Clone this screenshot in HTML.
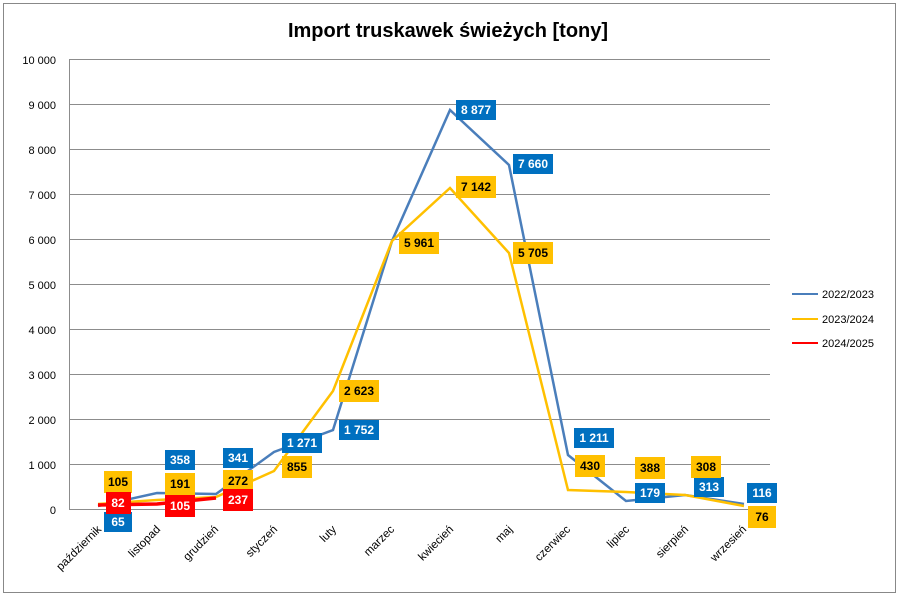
<!DOCTYPE html>
<html><head><meta charset="utf-8"><style>
body{margin:0;background:#fff}
text{font-family:"Liberation Sans",sans-serif}
</style></head><body>
<svg width="900" height="597" xmlns="http://www.w3.org/2000/svg">
<rect x="3.5" y="3.5" width="892" height="589" fill="#fff" stroke="#888"/>
<text x="448" y="37" text-anchor="middle" font-size="20" font-weight="bold">Import truskawek świeżych [tony]</text>
<g stroke="#8c8c8c" stroke-width="1">
<line x1="69" y1="59.5" x2="770" y2="59.5"/><line x1="69" y1="104.5" x2="770" y2="104.5"/>
<line x1="69" y1="149.5" x2="770" y2="149.5"/><line x1="69" y1="194.5" x2="770" y2="194.5"/>
<line x1="69" y1="239.5" x2="770" y2="239.5"/><line x1="69" y1="284.5" x2="770" y2="284.5"/>
<line x1="69" y1="329.5" x2="770" y2="329.5"/><line x1="69" y1="374.5" x2="770" y2="374.5"/>
<line x1="69" y1="419.5" x2="770" y2="419.5"/><line x1="69" y1="464.5" x2="770" y2="464.5"/>
<line x1="69" y1="509.5" x2="770" y2="509.5"/><line x1="69.5" y1="59" x2="69.5" y2="509"/>
</g>
<g font-size="11" text-anchor="end">
<text x="56" y="64">10 000</text><text x="56" y="109">9 000</text><text x="56" y="154">8 000</text>
<text x="56" y="199">7 000</text><text x="56" y="244">6 000</text><text x="56" y="289">5 000</text>
<text x="56" y="334">4 000</text><text x="56" y="379">3 000</text><text x="56" y="424">2 000</text>
<text x="56" y="469">1 000</text><text x="56" y="514">0</text>
</g>
<g font-size="11.5" text-anchor="end">
<text transform="translate(102,530) rotate(-45)">październik</text>
<text transform="translate(161,530) rotate(-45)">listopad</text>
<text transform="translate(219,530) rotate(-45)">grudzień</text>
<text transform="translate(278,530) rotate(-45)">styczeń</text>
<text transform="translate(337,530) rotate(-45)">luty</text>
<text transform="translate(395,530) rotate(-45)">marzec</text>
<text transform="translate(454,530) rotate(-45)">kwiecień</text>
<text transform="translate(513,530) rotate(-45)">maj</text>
<text transform="translate(571,530) rotate(-45)">czerwiec</text>
<text transform="translate(630,530) rotate(-45)">lipiec</text>
<text transform="translate(689,530) rotate(-45)">sierpień</text>
<text transform="translate(747,530) rotate(-45)">wrzesień</text>
</g>
<polyline fill="none" stroke="#4a7ebb" stroke-width="2.5" points="98,506 157,493 216,494 274,452 333,430 392,241 450,110 509,165 568,455 626,501 685,495 744,504"/>
<polyline fill="none" stroke="#ffc000" stroke-width="2.5" points="98,504 157,500 216,497 274,471 333,391 392,241 450,188 509,253 568,490 626,492 685,495 744,506"/>
<polyline fill="none" stroke="#ff0000" stroke-width="3.5" points="98,505 157,504 216,498"/>
<g font-size="12" font-weight="bold" text-anchor="middle">
<g fill="#0070c0"><rect x="104" y="512" width="28" height="20"/><rect x="165" y="450" width="30" height="20"/><rect x="223" y="448" width="30" height="20"/><rect x="282" y="433" width="40" height="20"/><rect x="339" y="420" width="40" height="20"/><rect x="456" y="100" width="40" height="20"/><rect x="513" y="154" width="40" height="20"/><rect x="574" y="428" width="40" height="20"/><rect x="635" y="483" width="30" height="20"/><rect x="694" y="477" width="30" height="20"/><rect x="747" y="483" width="30" height="20"/></g>
<g fill="#fff"><text x="118" y="526">65</text><text x="180" y="464">358</text><text x="238" y="462">341</text><text x="302" y="447">1 271</text><text x="359" y="434">1 752</text><text x="476" y="114">8 877</text><text x="533" y="168">7 660</text><text x="594" y="442">1 211</text><text x="650" y="497">179</text><text x="709" y="491">313</text><text x="762" y="497">116</text></g>
<g fill="#ffc000"><rect x="104" y="471" width="28" height="22"/><rect x="165" y="473" width="30" height="22"/><rect x="223" y="470" width="30" height="22"/><rect x="282" y="456" width="30" height="22"/><rect x="339" y="380" width="40" height="22"/><rect x="399" y="232" width="40" height="22"/><rect x="456" y="176" width="40" height="22"/><rect x="513" y="242" width="40" height="22"/><rect x="575" y="455" width="30" height="22"/><rect x="635" y="457" width="30" height="22"/><rect x="691" y="456" width="30" height="22"/><rect x="748" y="506" width="28" height="22"/></g>
<g fill="#000"><text x="118" y="486">105</text><text x="180" y="488">191</text><text x="238" y="485">272</text><text x="297" y="471">855</text><text x="359" y="395">2 623</text><text x="419" y="247">5 961</text><text x="476" y="191">7 142</text><text x="533" y="257">5 705</text><text x="590" y="470">430</text><text x="650" y="472">388</text><text x="706" y="471">308</text><text x="762" y="521">76</text></g>
<g fill="#ff0000"><rect x="106" y="492" width="25" height="22"/><rect x="165" y="495" width="30" height="22"/><rect x="223" y="489" width="30" height="22"/></g>
<g fill="#fff"><text x="118" y="507">82</text><text x="180" y="510">105</text><text x="238" y="504">237</text></g>
</g>
<line x1="792" y1="294" x2="818" y2="294" stroke="#4a7ebb" stroke-width="2"/>
<line x1="792" y1="319" x2="818" y2="319" stroke="#ffc000" stroke-width="2"/>
<line x1="792" y1="343" x2="818" y2="343" stroke="#ff0000" stroke-width="2"/>
<g font-size="11"><text x="822" y="298">2022/2023</text><text x="822" y="323">2023/2024</text><text x="822" y="347">2024/2025</text></g>
</svg>
</body></html>
